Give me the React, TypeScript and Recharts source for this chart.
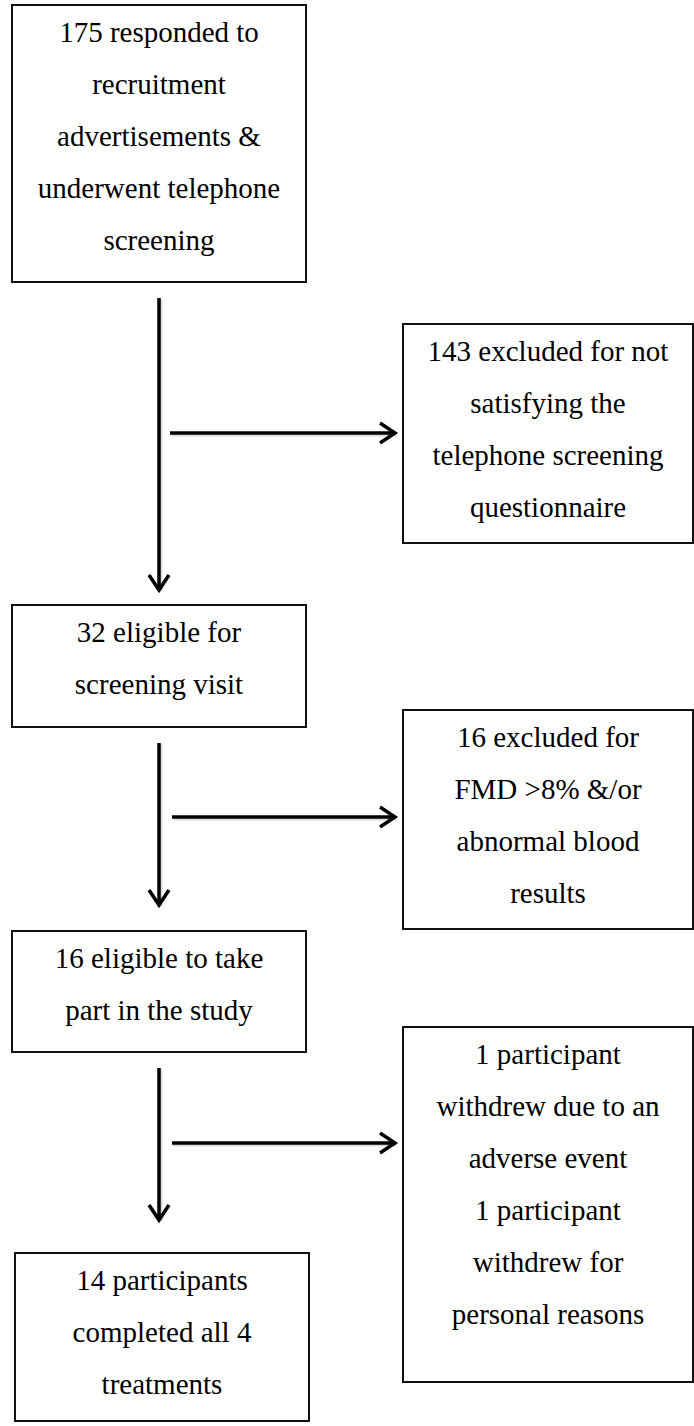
import {
  ComposedChart,
  ReferenceArea,
  ReferenceLine,
  Scatter,
  XAxis,
  YAxis,
} from "recharts";

// box texts, top to bottom, left column then right column
const respondedLines = [
  "175 responded to",
  "recruitment",
  "advertisements &",
  "underwent telephone",
  "screening",
];
const excludedPhoneLines = [
  "143 excluded for not",
  "satisfying the",
  "telephone screening",
  "questionnaire",
];
const eligibleVisitLines = ["32 eligible for", "screening visit"];
const excludedFmdLines = [
  "16 excluded for",
  "FMD >8% &/or",
  "abnormal blood",
  "results",
];
const eligibleStudyLines = ["16 eligible to take", "part in the study"];
const withdrawnLines = [
  "1 participant",
  "withdrew due to an",
  "adverse event",
  "1 participant",
  "withdrew for",
  "personal reasons",
];
const completedLines = ["14 participants", "completed all 4", "treatments"];

const stepTexts = [
  respondedLines,
  excludedPhoneLines,
  eligibleVisitLines,
  excludedFmdLines,
  eligibleStudyLines,
  withdrawnLines,
  completedLines,
];

// layout in diagram units (domain = page pixels)
const W = 694;
const H = 1426;
const stepFrames = [
  { x1: 12, x2: 306, y1: 5, y2: 282 },
  { x1: 403, x2: 693, y1: 324, y2: 543 },
  { x1: 12, x2: 306, y1: 605, y2: 727 },
  { x1: 403, x2: 693, y1: 710, y2: 929 },
  { x1: 12, x2: 306, y1: 931, y2: 1052 },
  { x1: 403, x2: 693, y1: 1027, y2: 1382 },
  { x1: 15, x2: 309, y1: 1253, y2: 1421 },
];
const flowArrows = [
  [{ x: 159, y: 298 }, { x: 159, y: 590 }],
  [{ x: 170, y: 433 }, { x: 395, y: 433 }],
  [{ x: 159, y: 743 }, { x: 159, y: 905 }],
  [{ x: 172, y: 817 }, { x: 395, y: 817 }],
  [{ x: 159, y: 1068 }, { x: 159, y: 1220 }],
  [{ x: 172, y: 1143 }, { x: 395, y: 1143 }],
];

const textAnchors = stepFrames.map((f, i) => ({
  x: (f.x1 + f.x2) / 2,
  y: f.y1,
  lines: stepTexts[i],
}));

const FONT =
  "'Liberation Serif', Tinos, 'Times New Roman', 'DejaVu Serif', serif";

function StepText(props: any) {
  const { cx, cy, payload } = props;
  return (
    <text
      textAnchor="middle"
      style={{ fontFamily: FONT, fontSize: 29 }}
      fill="#000"
    >
      {payload.lines.map((line: string, i: number) => (
        <tspan key={i} x={cx} y={cy + 37 + i * 52}>
          {line}
        </tspan>
      ))}
    </text>
  );
}

function Arrow(props: any) {
  const { x1, y1, x2, y2 } = props;
  const len = Math.hypot(x2 - x1, y2 - y1) || 1;
  const ux = (x2 - x1) / len;
  const uy = (y2 - y1) / len;
  const px = -uy;
  const py = ux;
  const head = 15;
  const half = 10;
  const pts = [
    [x2 - ux * head + px * half, y2 - uy * head + py * half],
    [x2, y2],
    [x2 - ux * head - px * half, y2 - uy * head - py * half],
  ]
    .map((p) => p.join(","))
    .join(" ");
  return (
    <g>
      <line
        x1={x1 + 1.5}
        y1={y1 + 1.5}
        x2={x2 + 1.5}
        y2={y2 + 1.5}
        stroke="#bbb"
        strokeWidth={4}
        opacity={0.5}
      />
      <line x1={x1} y1={y1} x2={x2} y2={y2} stroke="#000" strokeWidth={3.5} />
      <polyline
        points={pts}
        fill="none"
        stroke="#000"
        strokeWidth={3.5}
        strokeLinejoin="miter"
      />
    </g>
  );
}

export default function App() {
  return (
    <div style={{ width: W, height: H, background: "#fff", fontFamily: FONT }}>
      <style>{"body{margin:0}"}</style>
      <ComposedChart
        width={W}
        height={H}
        margin={{ top: 0, right: 0, bottom: 0, left: 0 }}
      >
        <XAxis type="number" dataKey="x" domain={[0, W]} hide />
        <YAxis type="number" dataKey="y" domain={[0, H]} reversed hide />
        {stepFrames.map((f, i) => (
          <ReferenceArea
            key={i}
            x1={f.x1}
            x2={f.x2}
            y1={f.y1}
            y2={f.y2}
            fill="none"
            fillOpacity={0}
            stroke="#111"
            strokeWidth={2}
            ifOverflow="visible"
          />
        ))}
        {flowArrows.map((seg, i) => (
          <ReferenceLine
            key={i}
            segment={seg}
            shape={Arrow}
            ifOverflow="visible"
          />
        ))}
        <Scatter
          data={textAnchors}
          dataKey="y"
          shape={StepText}
          isAnimationActive={false}
        />
      </ComposedChart>
    </div>
  );
}
